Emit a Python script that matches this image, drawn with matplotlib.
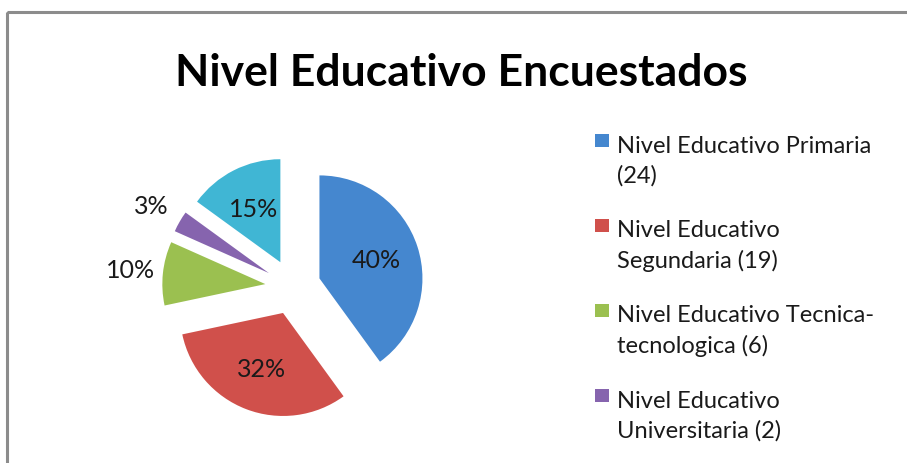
import matplotlib.pyplot as plt
import numpy as np
from matplotlib.patches import Rectangle

W, H = 907, 464

categories = ["Nivel Educativo Primaria\n(24)",
              "Nivel Educativo\nSegundaria (19)",
              "Nivel Educativo Tecnica-\ntecnologica (6)",
              "Nivel Educativo\nUniversitaria (2)",
              "Nivel Educativo\nNinguno (9)"]
values = [24, 19, 6, 2, 9]
colors = ['#4587cf', '#d0504b', '#9bc050', '#8664ae', '#40b6d4']

plt.rcParams['font.family'] = ['Lato', 'DejaVu Sans']


def px(x, y):
    # pixel coords (from top-left) -> figure fraction
    return x / W, 1 - y / H


fig = plt.figure(figsize=(W / 100, H / 100), dpi=100)

# gray chart frame (runs off right and bottom edges)
fig.patches.append(Rectangle(px(7, 13), 2, -2, transform=fig.transFigure,
                             fill=False, edgecolor='#8c8c8c', linewidth=2.2,
                             clip_on=False))

fig.text(*px(461, 73), "Nivel Educativo Encuestados", ha='center', va='center',
         fontsize=32, fontweight='bold', color='black')

# pie: 1 data unit = 103 px, centre at (293, 288)
r = 103
ax = fig.add_axes([(293 - 1.5 * r) / W, (H - 288 - 1.5 * r) / H, 3 * r / W, 3 * r / H])

explode = [0.27] * len(values)
wedges, _ = ax.pie(values, colors=colors, startangle=90, counterclock=False,
                   explode=explode, radius=1,
                   wedgeprops=dict(linewidth=0))
ax.set_xlim(-1.5, 1.5)
ax.set_ylim(-1.5, 1.5)
ax.set_aspect('equal')
ax.axis('off')

total = sum(values)
for w, v, e in zip(wedges, values, explode):
    ang = np.deg2rad((w.theta1 + w.theta2) / 2)
    share = v / total
    dist = 0.58 if share > 0.12 else 1.32
    x = (e + dist) * np.cos(ang)
    y = (e + dist) * np.sin(ang)
    ax.text(x, y, f"{round(share * 100)}%", ha='center', va='center',
            fontsize=18, color='#1a1a1a')

# legend drawn by hand to match the Excel layout;
# entries that would start below the chart edge are cut off like in the original
for i, (lab, col) in enumerate(zip(categories, colors)):
    base = 152 + i * 85
    if base - 20 > H:
        continue
    fig.patches.append(Rectangle(px(595, base - 4), 14 / W, 13 / H,
                                 transform=fig.transFigure, facecolor=col,
                                 edgecolor='none'))
    fig.text(*px(617, base + 31), lab, ha='left', va='baseline', fontsize=17,
             linespacing=1.5, color='#1a1a1a')

fig.savefig('out.png', dpi=100)
